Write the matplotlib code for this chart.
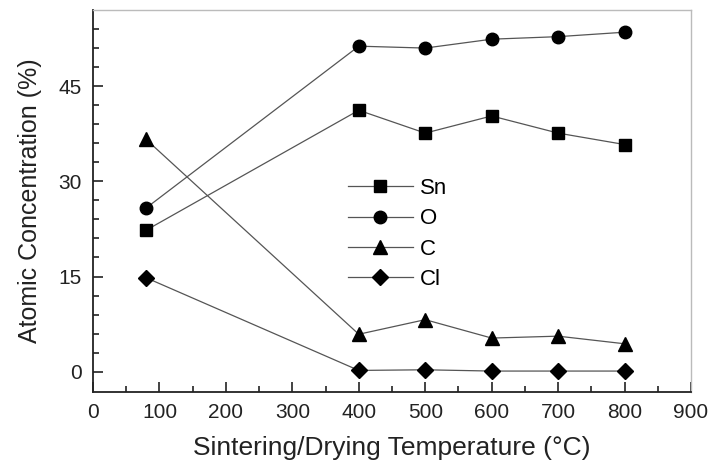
import numpy as np
import matplotlib.pyplot as plt

# data
temps = [80, 400, 500, 600, 700, 800]
sn = [22.3, 41.2, 37.6, 40.3, 37.6, 35.8]
o = [25.8, 51.3, 51.0, 52.4, 52.8, 53.5]
c = [36.6, 5.9, 8.2, 5.3, 5.6, 4.4]
cl = [14.8, 0.2, 0.3, 0.1, 0.1, 0.1]

series = [("Sn", sn, "s", 8), ("O", o, "o", 9), ("C", c, "^", 9.5), ("Cl", cl, "D", 8)]

plt.rcParams['font.family'] = ['Liberation Sans', 'DejaVu Sans']

fig = plt.figure(figsize=(7.1, 4.7), dpi=100)
ax = fig.add_axes([93 / 710, 1 - 392 / 470, (691 - 93) / 710, (392 - 10) / 470])

for name, vals, mk, ms in series:
    ax.plot(temps, vals, color='#555555', linewidth=0.9, marker=mk, markersize=ms,
            markerfacecolor='black', markeredgecolor='black', label=name)

ax.set_xlim(0, 900)
ax.set_ylim(-3.2, 57)
ax.set_xticks(np.arange(0, 901, 100))
ax.set_xticks(np.arange(50, 900, 100), minor=True)
ax.set_yticks([0, 15, 30, 45])
ax.set_yticks(np.arange(3, 57, 3), minor=True)
ax.tick_params(which='both', direction='in', labelsize=15, colors='#222222', pad=8)
ax.tick_params(which='major', length=7, width=1.2)
ax.tick_params(which='minor', length=4, width=1.2)

for s in ['left', 'bottom']:
    ax.spines[s].set_linewidth(1.3)
    ax.spines[s].set_color('#222222')
for s in ['top', 'right']:
    ax.spines[s].set_linewidth(1.0)
    ax.spines[s].set_color('#bbbbbb')

ax.set_xlabel("Sintering/Drying Temperature (°C)", fontsize=19, color='#222222', labelpad=10)
ax.set_ylabel("Atomic Concentration (%)", fontsize=18, color='#222222', labelpad=12)

ax.legend(loc='upper left', bbox_to_anchor=(337 / 710, 1 - 167 / 470),
          bbox_transform=fig.transFigure, frameon=False, fontsize=16,
          handlelength=2.9, handletextpad=0.35, labelspacing=0.42, borderpad=0)

plt.savefig("out.png", dpi=100)
